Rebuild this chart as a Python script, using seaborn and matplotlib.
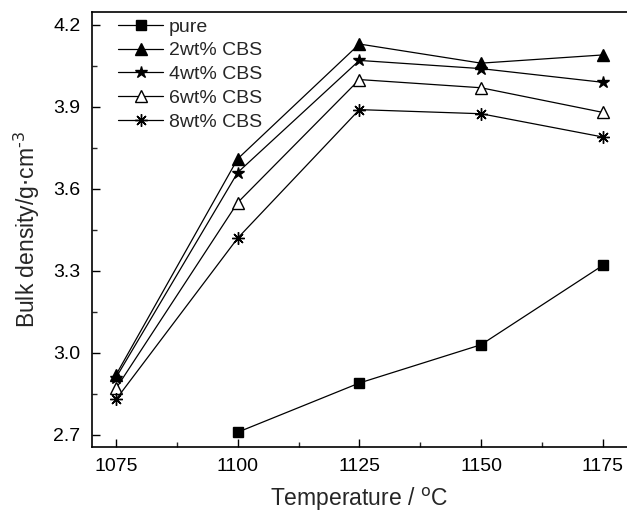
import matplotlib
matplotlib.use("Agg")
import matplotlib.pyplot as plt
import seaborn as sns
import pandas as pd
from matplotlib.ticker import MultipleLocator

temps = [1075, 1100, 1125, 1150, 1175]
pure_t = [1100, 1125, 1150, 1175]
pure = [2.71, 2.89, 3.03, 3.32]
cbs2 = [2.92, 3.71, 4.13, 4.06, 4.09]
cbs4 = [2.91, 3.66, 4.07, 4.04, 3.99]
cbs6 = [2.87, 3.55, 4.00, 3.97, 3.88]
cbs8 = [2.83, 3.42, 3.89, 3.875, 3.79]
labels = ["pure", "2wt% CBS", "4wt% CBS", "6wt% CBS", "8wt% CBS"]

rows = []
for t, v in zip(pure_t, pure):
    rows.append((labels[0], t, v))
for lab, vals in zip(labels[1:], [cbs2, cbs4, cbs6, cbs8]):
    for t, v in zip(temps, vals):
        rows.append((lab, t, v))
df = pd.DataFrame(rows, columns=["series", "T", "rho"])

sns.set_theme(style="white")
plt.rcParams['font.family'] = ['Liberation Sans', 'DejaVu Sans']

fig = plt.figure(figsize=(6.27, 5.13), dpi=100)
ax = fig.add_axes([91.7/627, (513-447)/513, (627-91.7)/627, (447-12.3)/513])

styles = {
    "pure": dict(marker='s', mfc='black', ms=6.5),
    "2wt% CBS": dict(marker='^', mfc='black', ms=8),
    "4wt% CBS": dict(marker='*', mfc='black', ms=9),
    "6wt% CBS": dict(marker='^', mfc='white', ms=8),
    "8wt% CBS": dict(marker=(8, 2, 0), mfc='black', ms=9),
}
for lab in labels:
    sub = df[df.series == lab]
    st = styles[lab]
    sns.lineplot(data=sub, x="T", y="rho", ax=ax, color='black', lw=0.9,
                 marker=st['marker'], markerfacecolor=st['mfc'],
                 markeredgecolor='black', markersize=st['ms'], markeredgewidth=1.0,
                 label=lab, sort=False)

ax.set_xlim(1070, 1180)
ax.set_ylim(2.656, 4.246)
ax.set_xticks(temps)
ax.set_yticks([2.7, 3.0, 3.3, 3.6, 3.9, 4.2])
ax.set_yticklabels(["2.7", "3.0", "3.3", "3.6", "3.9", "4.2"])
ax.xaxis.set_minor_locator(MultipleLocator(12.5))
ax.yaxis.set_minor_locator(MultipleLocator(0.15))
ax.tick_params(axis='both', which='major', direction='in', length=6, width=1,
               labelsize=14, colors='black', bottom=True, left=True)
ax.tick_params(axis='both', which='minor', direction='in', length=3.5, width=1,
               bottom=True, left=True)
ax.tick_params(axis='x', pad=8)
ax.tick_params(axis='y', pad=8)
for s in ['left', 'bottom', 'top']:
    ax.spines[s].set_color('black')
    ax.spines[s].set_linewidth(1.2)
ax.spines['right'].set_visible(False)

ax.set_xlabel("Temperature / $^{\\mathrm{o}}$C", fontsize=16.5, labelpad=8)
ax.set_ylabel("Bulk density/g$\\cdot$cm$^{\\text{-}3}$", fontsize=16.5, labelpad=8)

leg = ax.legend(loc='upper left', frameon=False, fontsize=14, handlelength=2.3,
                handletextpad=0.3, labelspacing=0.32, borderaxespad=0.0,
                bbox_to_anchor=(0.035, 1.005))
for h in leg.legend_handles:
    h.set_linewidth(0.9)

fig.savefig("out.png", dpi=100)
